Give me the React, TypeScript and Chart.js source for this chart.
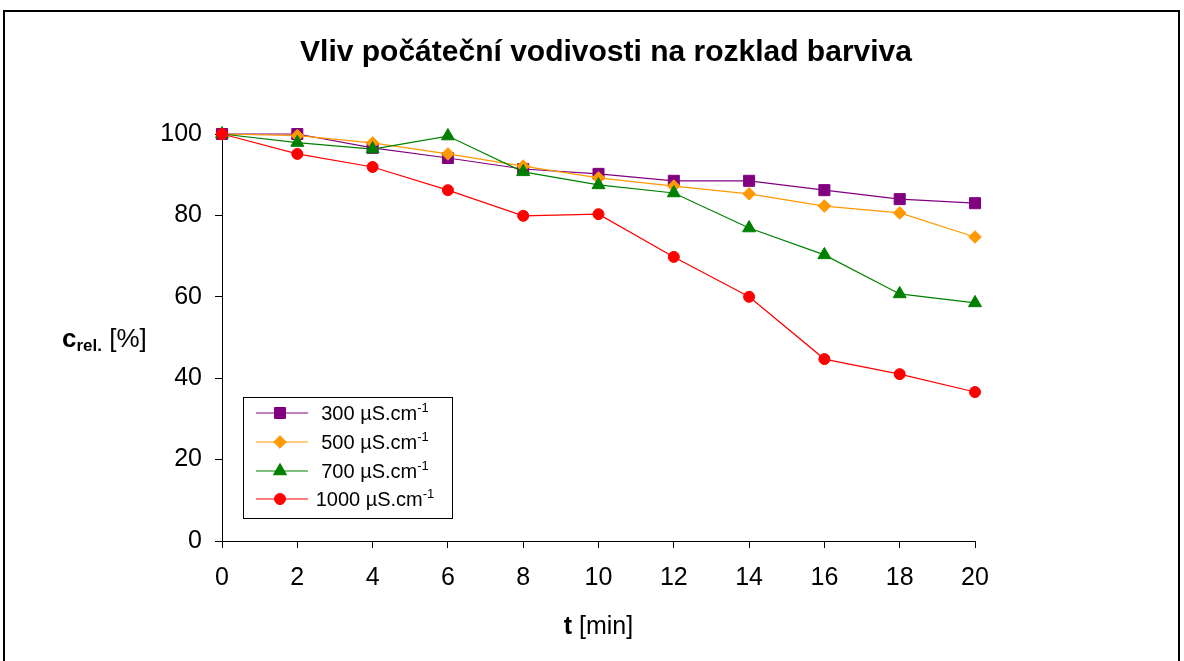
import { useEffect, useRef } from 'react';
import { Chart, registerables } from 'chart.js';

Chart.register(...registerables);

// ---- data ----
const times = [0, 2, 4, 6, 8, 10, 12, 14, 16, 18, 20];
const s300 = [100, 100, 96.6, 94.1, 91.4, 90.2, 88.5, 88.5, 86.2, 84.0, 83.0];
const s500 = [100, 99.6, 97.8, 95.1, 92.1, 89.2, 87.2, 85.3, 82.3, 80.6, 74.7];
const s700 = [100, 97.9, 96.3, 99.5, 90.7, 87.5, 85.5, 76.9, 70.3, 60.7, 58.5];
const s1000 = [100, 95.1, 91.9, 86.2, 79.9, 80.3, 69.8, 60.0, 44.7, 41.0, 36.6];

const seriesNames = ['300 µS.cm', '500 µS.cm', '700 µS.cm', '1000 µS.cm'];
const unitSup = '-1';
const titleText = 'Vliv počáteční vodivosti na rozklad barviva';
const xTitleBold = 't';
const xTitleRest = ' [min]';
const yTitleMain = 'c';
const yTitleSub = 'rel.';
const yTitleRest = ' [%]';

const FONT = '"Liberation Sans", Arial, sans-serif';

const colors = ['#800080', '#FF9900', '#008000', '#FF0000'];
const styles = ['rect', 'rectRot', 'triangle', 'circle'];
const radii = [7.8, 6.3, 7.5, 5.5];

function drawMarker(ctx: CanvasRenderingContext2D, style: string, x: number, y: number, r: number) {
  ctx.beginPath();
  if (style === 'rect') {
    const s = r * Math.SQRT1_2;
    ctx.rect(x - s, y - s, 2 * s, 2 * s);
  } else if (style === 'rectRot') {
    ctx.moveTo(x - r, y);
    ctx.lineTo(x, y - r);
    ctx.lineTo(x + r, y);
    ctx.lineTo(x, y + r);
    ctx.closePath();
  } else if (style === 'triangle') {
    ctx.moveTo(x, y - r);
    ctx.lineTo(x + r * Math.sin((2 * Math.PI) / 3), y - r * Math.cos((2 * Math.PI) / 3));
    ctx.lineTo(x + r * Math.sin((4 * Math.PI) / 3), y - r * Math.cos((4 * Math.PI) / 3));
    ctx.closePath();
  } else {
    ctx.arc(x, y, r, 0, Math.PI * 2);
  }
  ctx.fill();
  ctx.stroke();
}

const decor = {
  id: 'decor',
  beforeDraw(chart: any) {
    const ctx = chart.ctx as CanvasRenderingContext2D;
    ctx.save();
    ctx.fillStyle = '#fff';
    ctx.fillRect(0, 0, chart.width, chart.height);
    ctx.strokeStyle = '#000';
    ctx.lineWidth = 2;
    ctx.strokeRect(4, 11, 1175, 700);
    ctx.restore();
  },
  afterDraw(chart: any) {
    const ctx = chart.ctx as CanvasRenderingContext2D;
    const a = chart.chartArea;
    ctx.save();
    ctx.fillStyle = '#000';
    ctx.textBaseline = 'alphabetic';

    // title
    ctx.font = `bold 30px ${FONT}`;
    ctx.textAlign = 'center';
    ctx.fillText(titleText, 606, 61);

    // x title
    ctx.textAlign = 'left';
    ctx.font = `bold 25px ${FONT}`;
    const wB = ctx.measureText(xTitleBold).width;
    ctx.font = `25px ${FONT}`;
    const wR = ctx.measureText(xTitleRest).width;
    const xs = (a.left + a.right) / 2 - (wB + wR) / 2;
    ctx.font = `bold 25px ${FONT}`;
    ctx.fillText(xTitleBold, xs, 634);
    ctx.font = `25px ${FONT}`;
    ctx.fillText(xTitleRest, xs + wB, 634);

    // y title
    let yx = 62;
    const yb = (a.top + a.bottom) / 2 + 9;
    ctx.font = `bold 26px ${FONT}`;
    ctx.fillText(yTitleMain, yx, yb);
    yx += ctx.measureText(yTitleMain).width;
    ctx.font = `bold 17px ${FONT}`;
    ctx.fillText(yTitleSub, yx, yb + 4);
    yx += ctx.measureText(yTitleSub).width;
    ctx.font = `26px ${FONT}`;
    ctx.fillText(yTitleRest, yx, yb);

    // legend
    const lx = a.left + 21;
    const ly = a.top + 263;
    const lw = 209;
    const lh = 121;
    ctx.fillStyle = '#fff';
    ctx.fillRect(lx, ly, lw, lh);
    ctx.strokeStyle = '#000';
    ctx.lineWidth = 1;
    ctx.strokeRect(lx + 0.5, ly + 0.5, lw, lh);
    const rowY = [16, 45, 74, 102];
    chart.data.datasets.forEach((ds: any) => {
      const idx = ds.legendIndex;
      const cy = ly + rowY[idx];
      ctx.strokeStyle = ds.borderColor;
      ctx.lineWidth = 1;
      ctx.beginPath();
      ctx.moveTo(lx + 13, cy);
      ctx.lineTo(lx + 65, cy);
      ctx.stroke();
      ctx.fillStyle = ds.backgroundColor;
      drawMarker(ctx, ds.pointStyle, lx + 37, cy, ds.pointRadius);
      ctx.fillStyle = '#000';
      ctx.font = `20px ${FONT}`;
      const tw = ctx.measureText(seriesNames[idx]).width;
      ctx.font = `13px ${FONT}`;
      const sw = ctx.measureText(unitSup).width;
      const sx = lx + 132 - (tw + sw) / 2;
      ctx.font = `20px ${FONT}`;
      ctx.fillText(seriesNames[idx], sx, cy + 7);
      ctx.font = `13px ${FONT}`;
      ctx.fillText(unitSup, sx + tw, cy - 1);
    });
    ctx.restore();
  },
};

export default function App() {
  const ref = useRef<HTMLCanvasElement>(null);
  useEffect(() => {
    const all = [s300, s500, s700, s1000];
    const datasets = all.map((vals, i) => ({
      label: seriesNames[i] + '⁻¹',
      legendIndex: i,
      data: times.map((t, j) => ({ x: t, y: vals[j] })),
      borderColor: colors[i],
      backgroundColor: colors[i],
      pointStyle: styles[i],
      pointRadius: radii[i],
      pointHoverRadius: radii[i],
      pointBorderWidth: 1,
      borderWidth: 1.2,
      order: 3 - i,
      clip: false,
    }));
    const chart = new Chart(ref.current as HTMLCanvasElement, {
      type: 'line',
      data: { datasets } as any,
      options: {
        responsive: false,
        animation: false,
        devicePixelRatio: 1,
        layout: { padding: { top: 134, right: 209, bottom: 0, left: 0 } },
        plugins: {
          legend: { display: false },
          title: { display: false },
          tooltip: { enabled: false },
        },
        scales: {
          x: {
            type: 'linear',
            min: 0,
            max: 20,
            ticks: {
              stepSize: 2,
              color: '#000',
              font: { size: 25, family: FONT },
              padding: 15,
              maxRotation: 0,
              autoSkip: false,
            },
            grid: {
              drawOnChartArea: false,
              drawTicks: true,
              tickLength: 7,
              color: '#000',
              lineWidth: 1,
            },
            border: { display: true, color: '#000', width: 1 },
            afterFit: (s: any) => {
              s.height = 120;
            },
          },
          y: {
            type: 'linear',
            min: 0,
            max: 100,
            ticks: {
              stepSize: 20,
              color: '#000',
              font: { size: 25, family: FONT },
              padding: 13,
            },
            grid: {
              drawOnChartArea: false,
              drawTicks: true,
              tickLength: 7,
              color: '#000',
              lineWidth: 1,
            },
            border: { display: true, color: '#000', width: 1 },
            afterFit: (s: any) => {
              s.width = 222;
            },
          },
        },
      } as any,
      plugins: [decor],
    });
    return () => chart.destroy();
  }, []);
  return (
    <div style={{ position: 'fixed', left: 0, top: 0, width: 1184, height: 661 }}>
      <canvas ref={ref} width={1184} height={661} style={{ display: 'block', width: 1184, height: 661 }} />
    </div>
  );
}
